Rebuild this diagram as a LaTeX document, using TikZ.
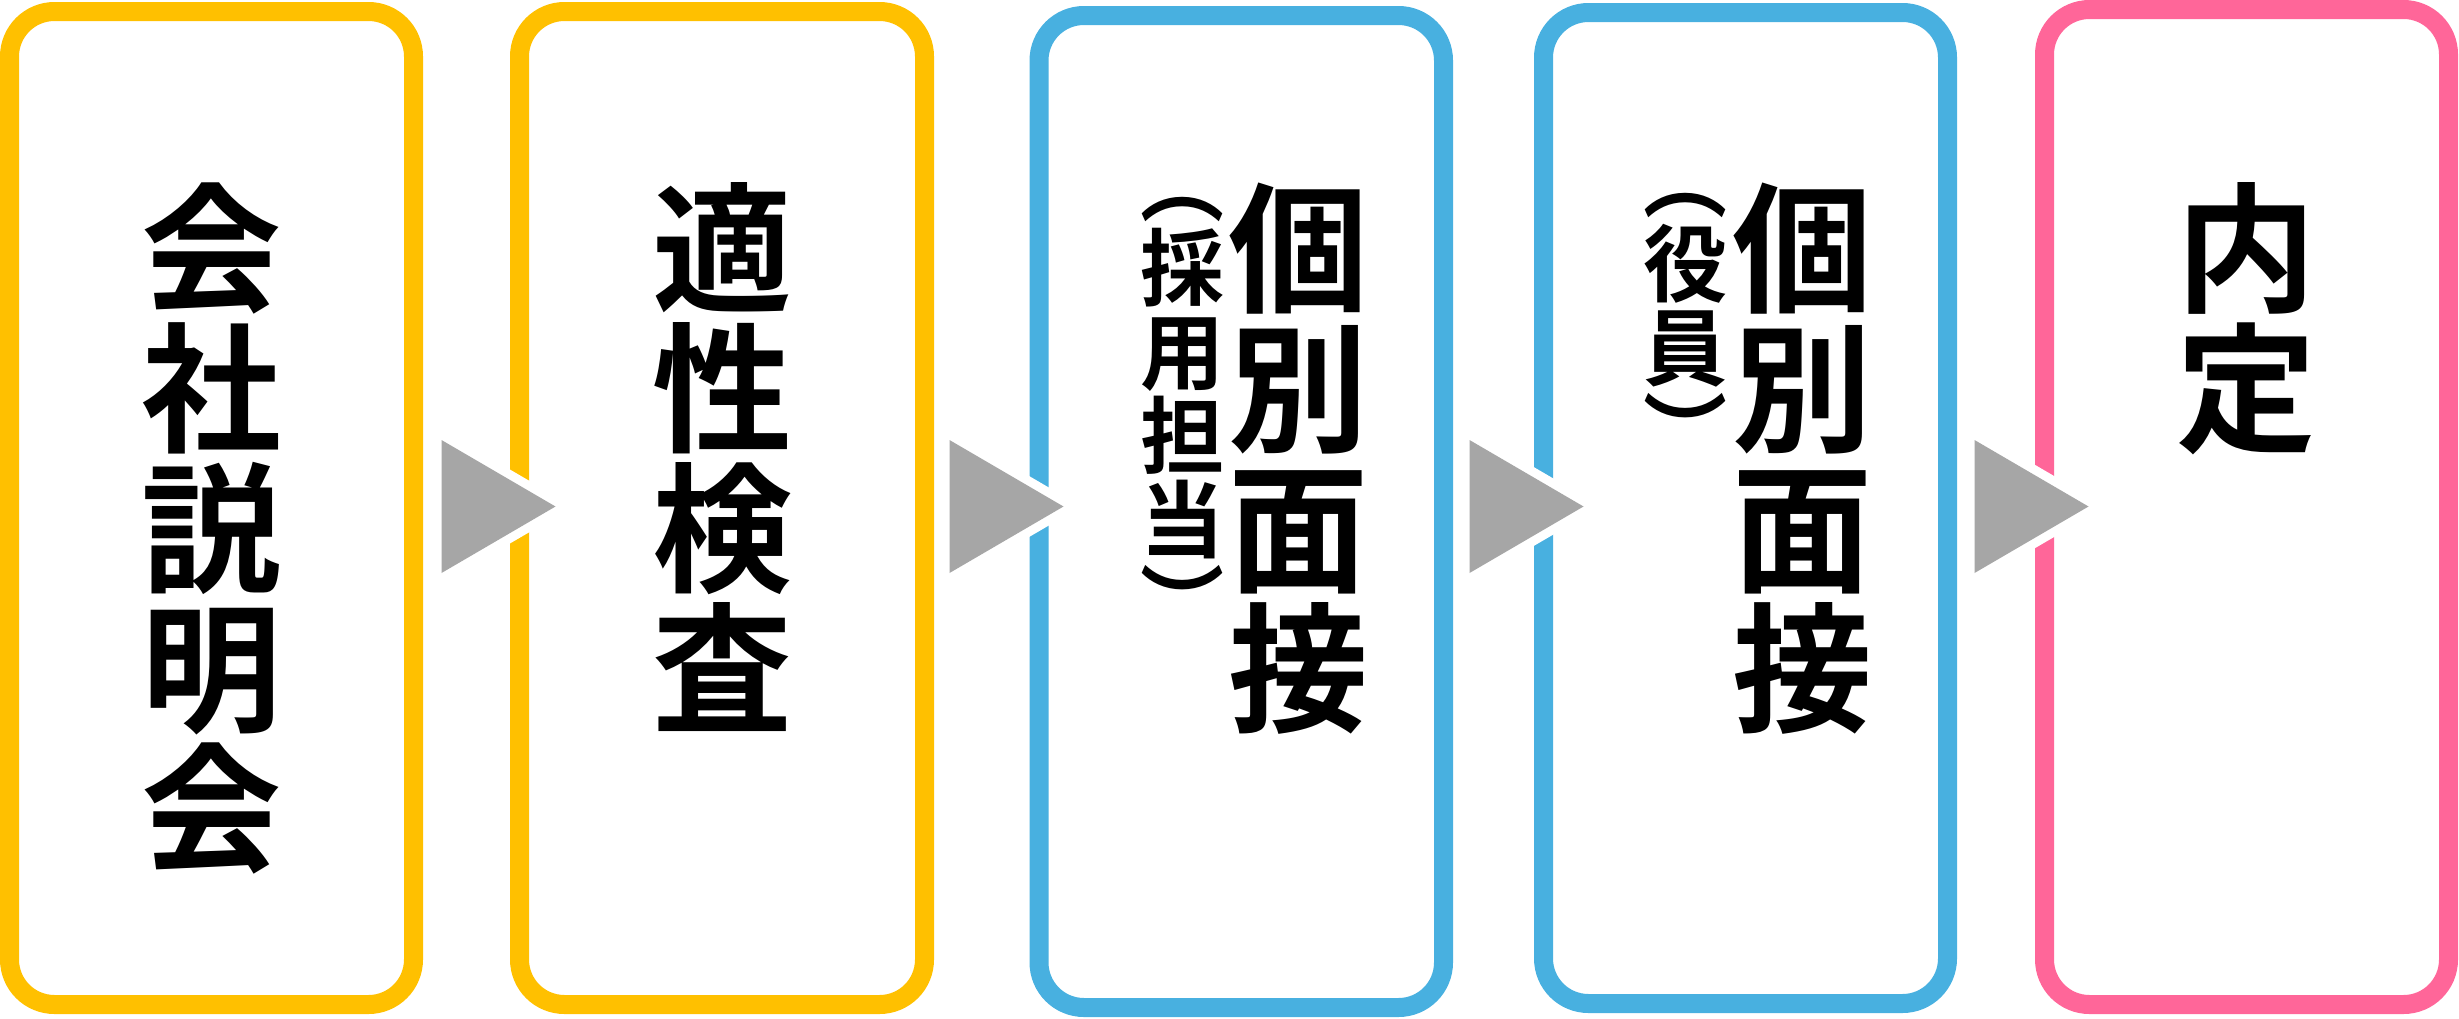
\documentclass[tikz,border=0pt]{standalone}
\usepackage{fontspec}
\newfontfamily\cjk{Noto Sans CJK JP}[BoldFont={Noto Sans CJK JP Bold}]
\usetikzlibrary{calc}
\definecolor{ylw}{HTML}{FFC000}
\definecolor{blu}{HTML}{48B0E0}
\definecolor{pnk}{HTML}{FF6699}
\definecolor{arrgray}{HTML}{A6A6A6}
\newcommand\bigjp{\cjk\bfseries\fontsize{140pt}{140pt}\selectfont\lineskiplimit=-1000pt\relax}
\newcommand\smalljp{\cjk\bfseries\fontsize{84pt}{84pt}\selectfont\lineskiplimit=-1000pt\relax}
\tikzset{
  stepbox/.style={draw=#1, line width=19pt, rounded corners=45pt, fill=white,
    rectangle, inner sep=0pt},
  bigtxt/.style={font=\bigjp, align=center, inner sep=0pt, anchor=north, text=black},
  smalltxt/.style={font=\smalljp, align=center, inner sep=0pt, anchor=north, text=black},
  flowarrow/.style={fill=arrgray, preaction={draw=white, line width=18pt, line join=miter}},
}
\begin{document}
\begin{tikzpicture}[x=1pt,y=-1pt]
\useasboundingbox (0,0) rectangle (2459,1018);
% boxes
\node[stepbox=ylw, minimum width=404pt, minimum height=993pt] (b1) at (211.5,508) {};
\node[stepbox=ylw, minimum width=405pt, minimum height=993pt] (b2) at (722,508) {};
\node[stepbox=blu, minimum width=404.5pt, minimum height=992pt] (b3) at (1241.25,511.5) {};
\node[stepbox=blu, minimum width=404pt, minimum height=991pt] (b4) at (1745.5,508) {};
\node[stepbox=pnk, minimum width=404pt, minimum height=995pt] (b5) at (2246.5,507) {};
% texts
\node[bigtxt] (t1) at (b1.center |- 0,178) {\rule{0pt}{123.2pt}会\\社\\説\\明\\会};
\node[bigtxt] (t2) at (b2.center |- 0,178) {\rule{0pt}{123.2pt}適\\性\\検\\査};
\node[bigtxt] (t3) at ($(b3.center |- 0,178)+(57,0)$) {\rule{0pt}{123.2pt}個\\別\\面\\接};
\node[smalltxt] (s3) at ($(b3.center |- 0,141)+(-59,0)$) {\rule{0pt}{74pt}︵\\採\\用\\担\\当\\︶};
\node[bigtxt] (t4) at ($(b4.center |- 0,178)+(57,0)$) {\rule{0pt}{123.2pt}個\\別\\面\\接};
\node[smalltxt] (s4) at ($(b4.center |- 0,137)+(-60,0)$) {\rule{0pt}{74pt}︵\\役\\員\\︶};
\node[bigtxt] (t5) at (b5.center |- 0,178) {\rule{0pt}{123.2pt}内\\定};
% arrows
\path[flowarrow] ($(b1.east |- 0,440)+(18.5,0)$) -- ++(0,133) -- ++(114,-66.5) -- cycle;
\path[flowarrow] ($(b2.east |- 0,440)+(15.5,0)$) -- ++(0,133) -- ++(114,-66.5) -- cycle;
\path[flowarrow] ($(b3.east |- 0,440)+(16.5,0)$) -- ++(0,133) -- ++(114,-66.5) -- cycle;
\path[flowarrow] ($(b4.east |- 0,440)+(17.5,0)$) -- ++(0,133) -- ++(114,-66.5) -- cycle;
\end{tikzpicture}
\end{document}
